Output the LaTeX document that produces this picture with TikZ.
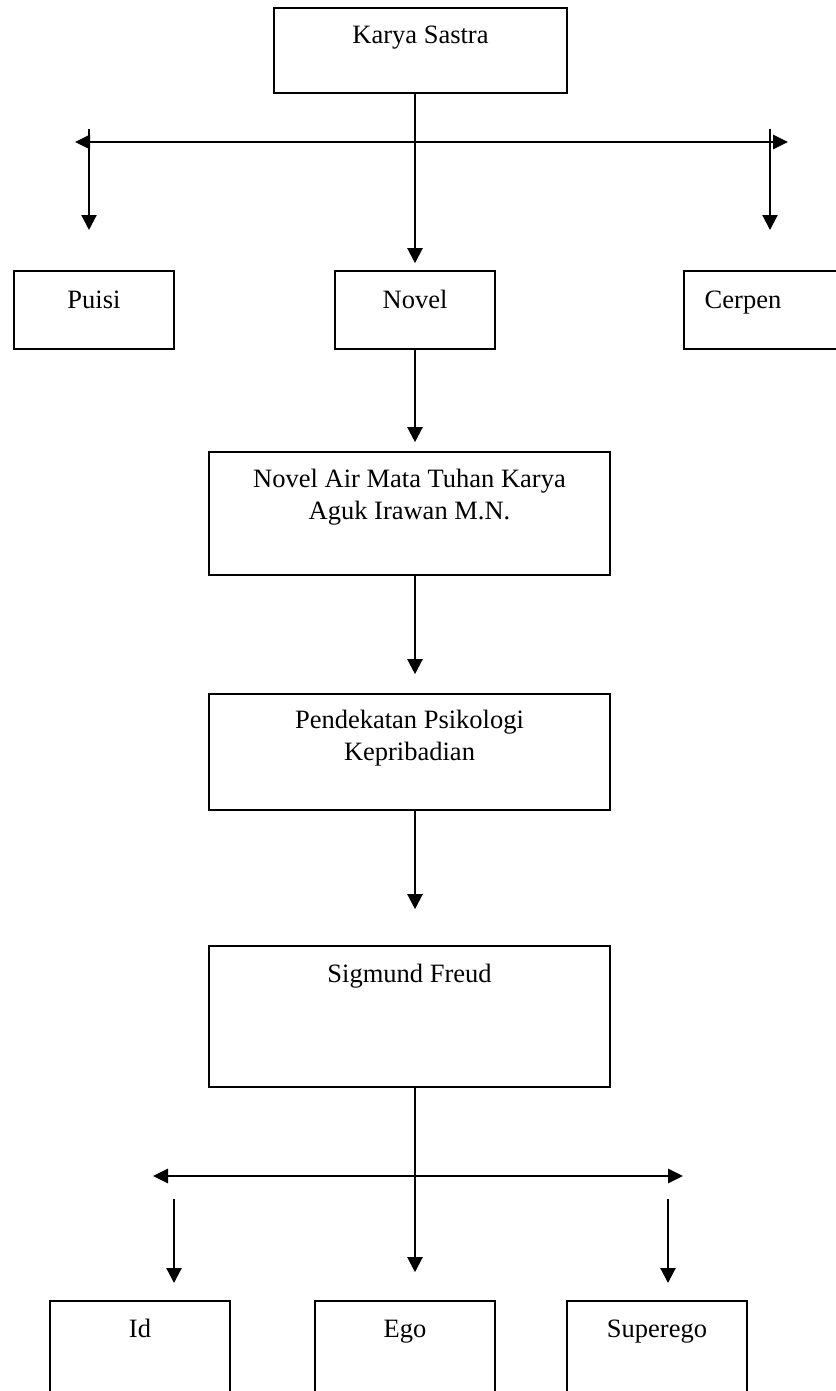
\documentclass[tikz,border=0pt]{standalone}
\usepackage{fontspec}
\setmainfont{Liberation Serif}
\usetikzlibrary{arrows.meta,calc}
\begin{document}
\begin{tikzpicture}[x=1pt,y=-1pt,
  box/.style={draw, line width=1.6pt, inner sep=0pt},
  txt/.style={font=\fontsize{26.5}{31.5}\selectfont, inner sep=0pt, align=center},
  arr/.style={line width=2.2pt, -{Triangle[length=15pt,width=15pt]}},
  harr/.style={line width=2.8pt, {Triangle[length=15pt,width=14pt]}-{Triangle[length=15pt,width=14pt]}}]
\useasboundingbox (0,0) rectangle (835,1391);
\fill[white] (0,0) rectangle (835,1391);
% boxes
\node[box, minimum width=293pt, minimum height=85pt] (karya) at (420.5,50.5) {};
\node[box, minimum width=160pt, minimum height=78pt] (puisi) at (94,310) {};
\node[box, minimum width=160pt, minimum height=78pt] (novel) at (415,310) {};
\node[box, minimum width=160pt, minimum height=78pt] (cerpen) at (764,310) {};
\node[box, minimum width=401pt, minimum height=123pt] (nam) at (409.5,513.5) {};
\node[box, minimum width=401pt, minimum height=116pt] (pend) at (409.5,752) {};
\node[box, minimum width=401pt, minimum height=141pt] (sig) at (409.5,1016.5) {};
\node[box, minimum width=180pt, minimum height=120pt] (id) at (140,1361) {};
\node[box, minimum width=180pt, minimum height=120pt] (ego) at (405,1361) {};
\node[box, minimum width=180pt, minimum height=120pt] (super) at (657,1361) {};
% texts
\node[txt, anchor=base] (karyaT) at (420.5,44) {Karya Sastra};
\node[txt, anchor=base] (puisiT) at (94,308) {Puisi};
\node[txt, anchor=base] (novelT) at (415,308) {Novel};
\node[txt, anchor=base] (cerpenT) at (743,308) {Cerpen};
\node[txt, anchor=north] (namT) at (409.5,469) {Novel Air Mata Tuhan Karya\\Aguk Irawan M.N.};
\node[txt, anchor=north] (pendT) at (409.5,710) {Pendekatan Psikologi\\Kepribadian};
\node[txt, anchor=base] (sigT) at (409.5,982) {Sigmund Freud};
\node[txt, anchor=base] (idT) at (140,1337) {Id};
\node[txt, anchor=base] (egoT) at (405,1337) {Ego};
\node[txt, anchor=base] (superT) at (657,1337) {Superego};
% first level connectors
\coordinate (hl) at (75,142);
\coordinate (hr) at (788,142);
\coordinate (pl1) at (89,129);
\coordinate (pl2) at (89,230);
\coordinate (pr1) at (770,129);
\coordinate (pr2) at (770,230);
\draw[harr] (hl) -- (hr);
\draw[arr] (pl1) -- (pl2);
\draw[arr] (pr1) -- (pr2);
\draw[arr] (karya.south -| novel.north) -- ($(novel.north)+(0,-7)$);
% chain
\draw[arr] (novel.south) -- ($(novel.south |- nam.north)+(0,-9)$);
\draw[arr] (nam.south -| novel.south) -- ($(novel.south |- pend.north)+(0,-19)$);
\draw[arr] (pend.south -| novel.south) -- ($(novel.south |- sig.north)+(0,-36)$);
% second level connectors
\coordinate (ql) at (153,1176);
\coordinate (qr) at (683,1176);
\coordinate (ql1) at (174,1199);
\coordinate (ql2) at (174,1283);
\coordinate (qr1) at (668,1199);
\coordinate (qr2) at (668,1283);
\draw[harr] (ql) -- (qr);
\draw[arr] (sig.south -| novel.south) -- ($(novel.south |- ego.north)+(0,-28)$);
\draw[arr] (ql1) -- (ql2);
\draw[arr] (qr1) -- (qr2);
\end{tikzpicture}
\end{document}
